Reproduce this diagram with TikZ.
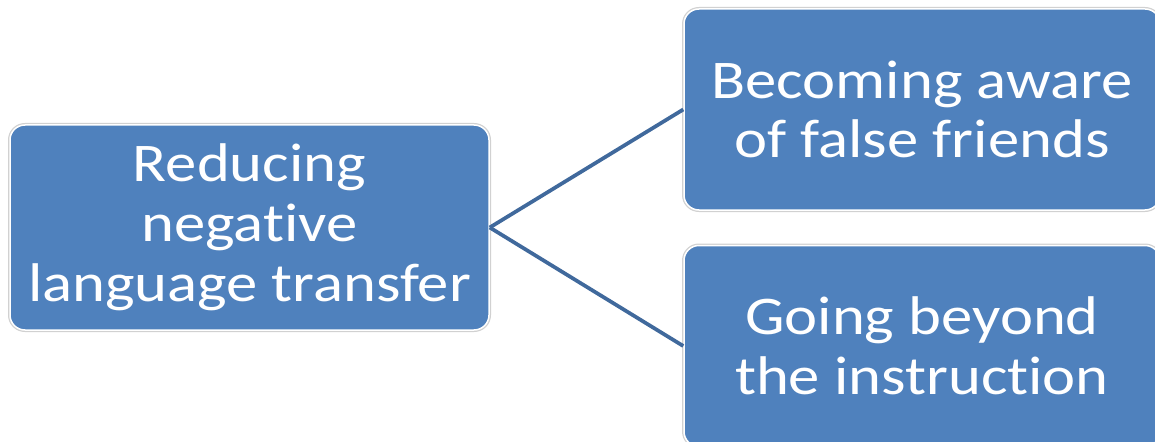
\documentclass[tikz,border=0pt]{standalone}
\usepackage{fontspec}
\setmainfont[FakeStretch=1.15,Ligatures=NoCommon]{Carlito}
\usepackage{tikz}
\usetikzlibrary{positioning}
\definecolor{boxblue}{HTML}{4F81BD}
\definecolor{lineblue}{HTML}{40699C}

\begin{document}
\begin{tikzpicture}[-,line width=0.075cm,auto]
\tikzstyle{box}=[rectangle,rounded corners=0.3cm,fill=boxblue,draw=white,line width=0.03cm,
  preaction={draw=black!18,line width=0.08cm},text=white,align=center,
  font=\fontsize{31pt}{34pt}\selectfont,inner sep=0pt]
\useasboundingbox[clip] (0,0) rectangle (23.1,-8.84);
\node[box,minimum width=9.58cm,minimum height=4.1cm]  (RT) at (4.99,-4.55) {Reducing\\negative\\language transfer};
\node[box,minimum width=9.52cm,minimum height=4.02cm] (FF) at (18.44,-2.19) {Becoming aware\\of false friends};
\node[box,minimum width=9.52cm,minimum height=4.02cm] (GB) [below=0.68cm of FF] {Going beyond\\the instruction};

\path[draw=lineblue]
(RT.east) edge (FF.west)
          edge (GB.west)
;
\end{tikzpicture}
\end{document}
